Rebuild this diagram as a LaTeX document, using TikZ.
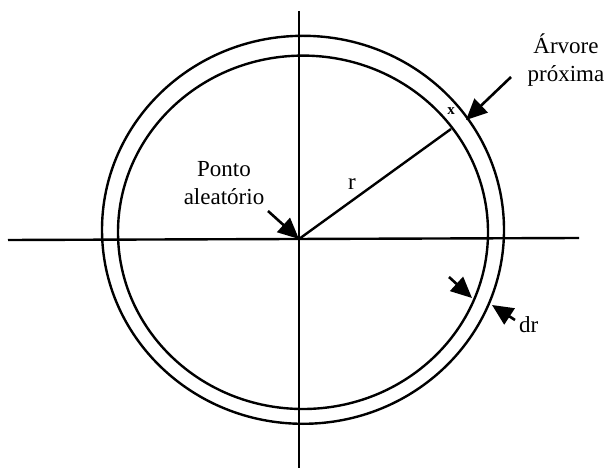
\documentclass[tikz,border=0pt]{standalone}
\usepackage{fontspec}
\setmainfont{Liberation Serif}
\usetikzlibrary{arrows.meta}
\begin{document}
\begin{tikzpicture}[x=1bp,y=-1bp,
  line/.style={line width=2.4bp,black},
  pointer/.style={line width=2.6bp,-{Triangle[length=21bp,width=19bp]}},
  lbl/.style={font=\fontsize{23bp}{28.5bp}\selectfont,align=center,inner sep=0pt}]
\useasboundingbox (0,0) rectangle (609,473);
% axes
\coordinate (L) at (8,240);
\coordinate (R) at (579,238);
\coordinate (T) at (299,11);
\coordinate (B) at (299,468);
\coordinate (O) at (299,239);
\draw[line] (L) -- (R);
\draw[line] (T) -- (B);
% circles
\draw[line] (303,232.3) ellipse [x radius=185, y radius=176.7];
\draw[line] (303,229.8) ellipse [x radius=201, y radius=194];
% radius
\coordinate (P) at (451,129);
\draw[line] (O) -- (P);
\node[inner sep=0pt,font=\fontsize{15bp}{16bp}\selectfont\bfseries] (xl) at (451,111) {x};
\node[lbl] (rl) at (352,184) {r};
% labels
\node[lbl] (ponto) at (224,183) {Ponto\\aleatório};
\node[lbl] (arvore) at (566,60) {Árvore\\próxima};
\node[lbl,anchor=base west] (dr) at (519,332) {dr};
% arrows
\coordinate (a1s) at (268,211);
\draw[pointer] (a1s) -- (O);
\coordinate (a2s) at (511,77);
\coordinate (a2t) at (466,120);
\draw[pointer] (a2s) -- (a2t);
\coordinate (a3s) at (449,277);
\coordinate (a3t) at (472,298);
\draw[pointer] (a3s) -- (a3t);
\coordinate (a4s) at (515,320);
\coordinate (a4t) at (492,305);
\draw[pointer] (a4s) -- (a4t);
\end{tikzpicture}
\end{document}
